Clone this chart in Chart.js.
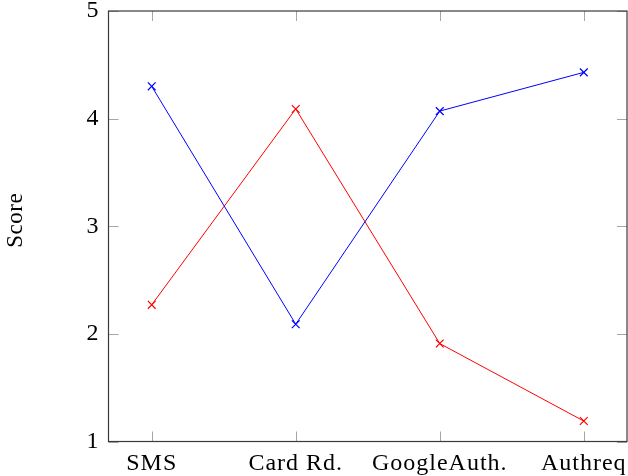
<!DOCTYPE html>
<html>
<head>
<meta charset="utf-8">
<script src="https://cdn.jsdelivr.net/npm/chart.js@4.4.1/dist/chart.umd.min.js"></script>
<style>
  html, body { margin: 0; padding: 0; background: #fff; }
  #wrap { width: 628px; height: 476px; }
</style>
</head>
<body>
<div id="wrap"><canvas id="c" width="628" height="476"></canvas></div>
<script>
// Authentication methods and their scores for the two groups
const categories = ['SMS', 'Card Rd.', 'GoogleAuth.', 'Authreq'];
const blueScores = [4.30, 2.09, 4.07, 4.43];
const redScores  = [2.27, 4.09, 1.91, 1.19];
const yTicks = [1, 2, 3, 4, 5];
const yTitle = 'Score';

const FAMILY = "'Liberation Serif', 'Times New Roman', serif";
const FONT = { family: FAMILY, size: 24, lineHeight: 1 };

const toPoints = vals => vals.map((v, i) => ({ x: i, y: v }));

// Slightly wider text spacing for all labels
const spacing = {
  id: 'spacing',
  beforeDraw(chart) { chart.ctx.letterSpacing = '1px'; }
};

// Box frame with short inward tick marks on all four sides, plus the rotated y-axis title
const frameTicks = {
  id: 'frameTicks',
  afterDatasetsDraw(chart) {
    const { ctx, chartArea: a, scales: { x, y } } = chart;
    const len = 10;
    ctx.save();
    ctx.strokeStyle = '#a6a6a6';
    ctx.lineWidth = 1;
    ctx.beginPath();
    categories.forEach((_, i) => {
      const px = Math.round(x.getPixelForValue(i)) + 0.5;
      ctx.moveTo(px, a.bottom); ctx.lineTo(px, a.bottom - len);
      ctx.moveTo(px, a.top); ctx.lineTo(px, a.top + len);
    });
    yTicks.forEach(v => {
      const py = Math.round(y.getPixelForValue(v)) + 0.5;
      ctx.moveTo(a.left, py); ctx.lineTo(a.left + len, py);
      ctx.moveTo(a.right, py); ctx.lineTo(a.right - len, py);
    });
    ctx.stroke();
    ctx.strokeStyle = '#3a3a3a';
    ctx.lineWidth = 1.2;
    ctx.strokeRect(a.left, a.top, a.right - a.left, a.bottom - a.top);

    // y-axis title, a little above the vertical centre of the plot
    ctx.translate(y.left + 16, (a.top + a.bottom) / 2 - 6);
    ctx.rotate(-Math.PI / 2);
    ctx.letterSpacing = '0.5px';
    ctx.font = `23px ${FAMILY}`;
    ctx.fillStyle = '#000';
    ctx.textAlign = 'center';
    ctx.textBaseline = 'middle';
    ctx.fillText(yTitle, 0, 0);
    ctx.restore();
  }
};

new Chart(document.getElementById('c'), {
  type: 'line',
  data: {
    datasets: [
      {
        data: toPoints(blueScores),
        borderColor: '#0000ff',
        backgroundColor: '#0000ff',
        borderWidth: 1,
        pointStyle: 'crossRot',
        pointRadius: 5.5,
        pointBorderWidth: 1.2,
        tension: 0,
        clip: false
      },
      {
        data: toPoints(redScores),
        borderColor: '#ff0000',
        backgroundColor: '#ff0000',
        borderWidth: 1,
        pointStyle: 'crossRot',
        pointRadius: 5.5,
        pointBorderWidth: 1.2,
        tension: 0,
        clip: false
      }
    ]
  },
  options: {
    responsive: false,
    animation: false,
    devicePixelRatio: 1,
    layout: { autoPadding: false, padding: { top: 11, right: 1, bottom: 0, left: 0 } },
    plugins: { legend: { display: false }, tooltip: { enabled: false } },
    scales: {
      x: {
        type: 'linear',
        min: -0.3,
        max: 3.3,
        afterBuildTicks: s => { s.ticks = categories.map((_, i) => ({ value: i })); },
        afterFit: s => {
          s.height = 34.5;
          s.paddingLeft = 0; s.paddingRight = 0;
        },
        grid: { display: false, drawTicks: false },
        border: { display: false },
        ticks: {
          color: '#000',
          font: FONT,
          padding: 10,
          maxRotation: 0,
          autoSkip: false,
          callback: v => categories[v]
        }
      },
      y: {
        min: 1,
        max: 5,
        afterBuildTicks: s => { s.ticks = yTicks.map(v => ({ value: v })); },
        afterFit: s => {
          s.width = 108.5;
          s.paddingTop = 0; s.paddingBottom = 0;
        },
        grid: { display: false, drawTicks: false },
        border: { display: false },
        ticks: { color: '#000', font: FONT, padding: 9 }
      }
    }
  },
  plugins: [spacing, frameTicks]
});
</script>
</body>
</html>
